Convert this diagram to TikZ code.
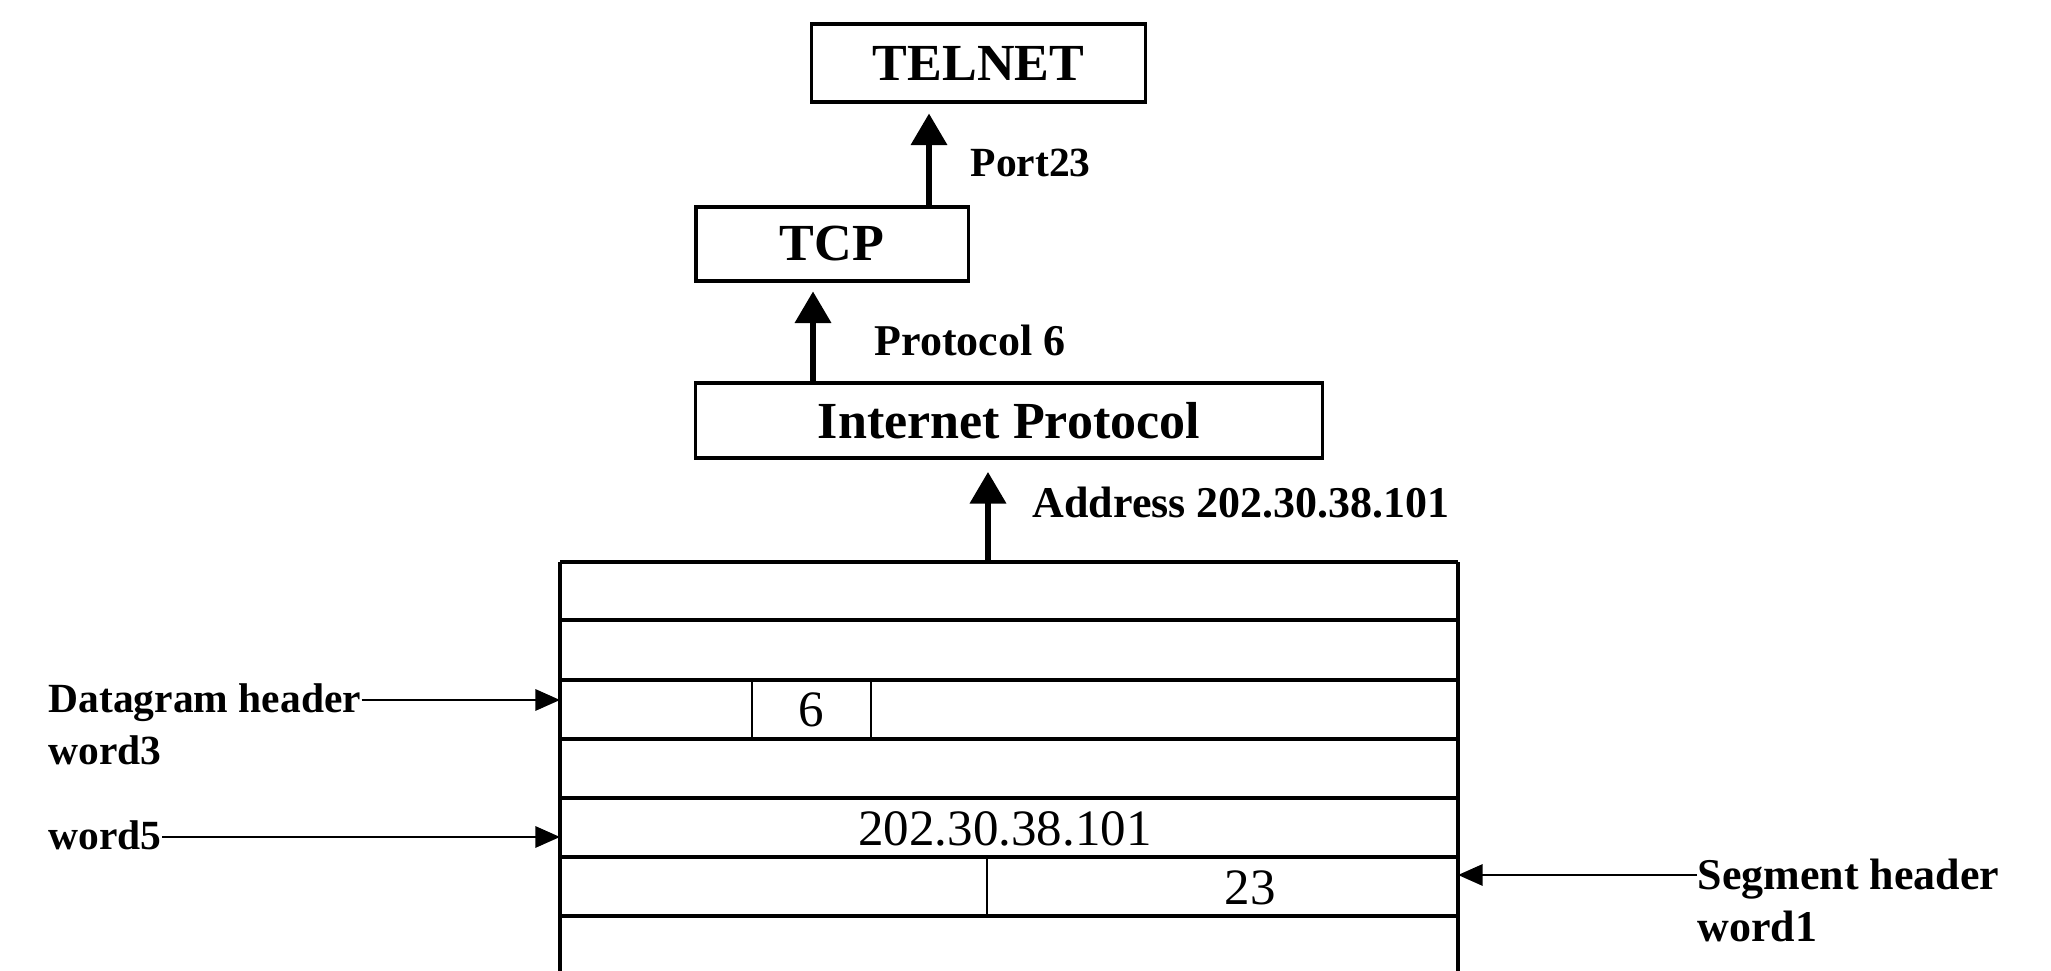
\documentclass[tikz,border=0pt]{standalone}
\usepackage{fontspec}
\setmainfont{Liberation Serif}
\usetikzlibrary{arrows.meta}
\begin{document}
\begin{tikzpicture}[x=0.01cm, y=-0.01cm,
  layerbox/.style={draw, line width=0.9pt, inner sep=0pt,
    font=\fontsize{14.8}{16}\selectfont\bfseries},
  lbl/.style={inner sep=0pt, font=\fontsize{12.5}{14}\selectfont\bfseries},
  smalllbl/.style={lbl, font=\fontsize{11.8}{14}\selectfont\bfseries},
  num/.style={inner sep=0pt, font=\fontsize{14.5}{16}\selectfont},
  uparrow/.style={line width=1.8pt, -{Triangle[width=10pt,length=9pt]}},
  sidearrow/.style={line width=0.8pt, -{Triangle[width=6pt,length=7pt]}},
  rowline/.style={line width=1.2pt},
  edgeline/.style={line width=0.9pt},
  cellline/.style={line width=0.6pt}]
\useasboundingbox (0,0) rectangle (2051,971);

% protocol layers
\node[layerbox, minimum width=3.33cm, minimum height=0.78cm] (telnet) at (978.5,63) {TELNET};
\node[layerbox, minimum width=2.72cm, minimum height=0.74cm] (tcp) at (832,244) {TCP};
\node[layerbox, minimum width=6.26cm, minimum height=0.75cm] (ip) at (1009,420.5) {Internet Protocol};

% datagram words
\coordinate (tabNW) at (560,562);
\coordinate (tabNE) at (1458,562);
\coordinate (tabSW) at (560,971);
\coordinate (tabSE) at (1458,971);
\draw[edgeline] (tabSW) -- (tabNW);
\draw[edgeline] (tabSE) -- (tabNE);
\draw[rowline] (tabNW) -- (tabNE);
\foreach \yy in {620,680,739,798,857,916}
  \draw[rowline] (tabNW |- 0,\yy) -- (tabNE |- 0,\yy);
\draw[cellline] (752,680) -- (752,739);
\draw[cellline] (871,680) -- (871,739);
\draw[cellline] (987,857) -- (987,916);
\node[num] (protofield) at (811.5,710) {6};
\node[num] (addrfield) at (1005,829) {202.30.38.101};
\node[num] (portfield) at (1250,888) {23};

% upward demultiplexing arrows
\coordinate (portx) at (929,0);
\coordinate (protox) at (813,0);
\coordinate (addrx) at (988,0);
\draw[uparrow, shorten >=2.8pt] (tcp.north -| portx) -- (telnet.south -| portx);
\draw[uparrow, shorten >=2.5pt] (ip.north -| protox) -- (tcp.south -| protox);
\draw[uparrow, shorten >=3.5pt] (tabNW -| addrx) -- (ip.south -| addrx);
\node[smalllbl, anchor=base west] (portlbl) at (970,177) {Port23};
\node[lbl, anchor=base west] (protolbl) at (874,356) {Protocol 6};
\node[lbl, anchor=base west] (addrlbl) at (1032,518) {Address 202.30.38.101};

% side annotations
\coordinate (w3pt) at (560,700);
\coordinate (w5pt) at (560,837);
\coordinate (s1pt) at (1458,875);
\node[smalllbl, anchor=base west] (dghead) at (48,713) {Datagram header};
\node[smalllbl, anchor=base west] (dgw3) at (48,765) {word3};
\node[smalllbl, anchor=base west] (dgw5) at (48,850) {word5};
\node[lbl, anchor=base west] (seghead) at (1697,890) {Segment header};
\node[lbl, anchor=base west] (segw1) at (1697,942) {word1};
\draw[sidearrow] (dghead.east |- w3pt) -- (w3pt);
\draw[sidearrow] (dgw5.east |- w5pt) -- (w5pt);
\draw[sidearrow] (seghead.west |- s1pt) -- (s1pt);
\end{tikzpicture}
\end{document}
